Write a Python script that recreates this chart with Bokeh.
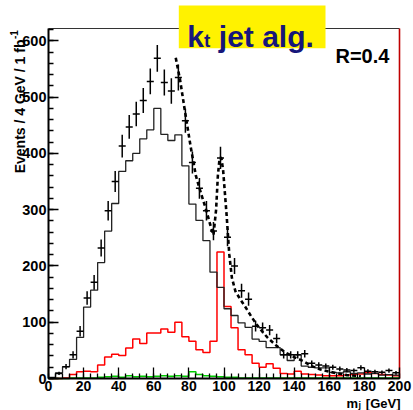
import numpy as np
from bokeh.plotting import figure
from bokeh.models import Range1d, SingleIntervalTicker, Label, BoxAnnotation
from bokeh.embed import file_html
from bokeh.resources import INLINE

# ---------------- data ----------------
bin_edges = list(range(0, 204, 4))  # 0..200, 4 GeV bins

black_hist = [2, 10, 21, 34, 73, 127, 157, 206, 262, 311,
              368, 387, 400, 426, 442, 480, 434, 423, 433, 378,
              310, 281, 245, 189, 162, 124, 112, 99, 91, 70,
              66, 55, 55, 42, 32, 42, 22, 20, 19, 19,
              11, 10, 12, 9, 10, 8, 9, 6, 7, 6]

red_hist = [0, 0, 1, 7, 12, 13, 12, 24, 38, 43,
            41, 54, 70, 62, 81, 81, 88, 82, 100, 74,
            66, 51, 46, 66, 225, 128, 90, 51, 42, 27,
            20, 26, 18, 9, 8, 13, 8, 7, 6, 5,
            5, 5, 6, 7, 8, 10, 9, 7, 6, 5]

green_hist = [0, 0, 0, 1, 1, 1, 1, 2, 3, 4,
              2, 5, 3, 4, 3, 4, 5, 4, 5, 4,
              12, 7, 5, 4, 3, 2, 2, 1, 1, 1,
              1, 1, 1, 1, 1, 1, 1, 1, 1, 1,
              1, 1, 1, 1, 1, 1, 1, 1, 1, 1]

data_x = list(range(2, 200, 4))
data_y = [1, 9, 21, 42, 84, 143, 171, 232, 298, 350,
          413, 447, 470, 494, 528, 569, 526, 511, 535, 458,
          384, 338, 298, 262, 392, 251, 200, 156, 141, 93,
          90, 86, 71, 42, 42, 42, 44, 27, 24, 22,
          20, 17, 15, 14, 19, 13, 12, 11, 14, 10]

fit_x = [72.5, 75, 78, 81, 84, 87, 90, 92, 94, 95.5, 96.5, 97.5, 98.5, 99.5,
         100.5, 101.5, 103, 104.5, 106.5, 109, 112, 116, 120, 125, 130, 135,
         140, 145, 150, 155, 160, 165, 170, 175, 178]
fit_y = [570, 530, 470, 412, 360, 328, 298, 275, 255, 300, 360, 392, 392, 370,
         330, 290, 221, 179, 155, 142, 128, 108, 90, 72, 58, 46,
         38, 31, 22, 16, 12, 9, 6, 5, 4]

X_MIN, X_MAX = 0, 200      # axis extent (GeV)
Y_MIN, Y_MAX = 0, 622      # axis extent (events)

# ---------------- figure ----------------
FONT = "Liberation Sans"
W, H = 413, 410
FR_L, FR_R, FR_T, FR_B = 48, 399, 28, 378   # plot box in canvas pixels
sx = (FR_R - FR_L) / (X_MAX - X_MIN)
sy = (FR_B - FR_T) / (Y_MAX - Y_MIN)
x_lo = X_MIN - FR_L / sx
x_hi = X_MAX + (W - FR_R) / sx
y_lo = Y_MIN - (H - FR_B) / sy
y_hi = Y_MAX + FR_T / sy


def cx(px):  # canvas pixel -> x data (for placing annotations)
    return X_MIN + (px - FR_L) / sx


def cy(py):  # canvas pixel (from top) -> y data
    return Y_MIN + (FR_B - py) / sy


p = figure(width=W, height=H, output_backend="svg", toolbar_location=None,
           x_range=Range1d(x_lo, x_hi), y_range=Range1d(y_lo, y_hi),
           min_border=0, min_border_left=0, min_border_right=0,
           min_border_top=0, min_border_bottom=0)
p.background_fill_color = "white"
p.border_fill_color = "white"
p.outline_line_color = None
p.xgrid.visible = False
p.ygrid.visible = False

p.xaxis.ticker = SingleIntervalTicker(interval=20, num_minor_ticks=5)
p.yaxis.ticker = SingleIntervalTicker(interval=100, num_minor_ticks=5)
p.xaxis.fixed_location = Y_MIN
p.yaxis.fixed_location = X_MIN
p.xaxis.bounds = (X_MIN, X_MAX)
p.yaxis.bounds = (Y_MIN, Y_MAX)
for ax in (p.xaxis[0], p.yaxis[0]):
    ax.axis_line_width = 2
    ax.axis_line_color = "black"
    ax.major_tick_line_color = "black"
    ax.minor_tick_line_color = "black"
    ax.major_tick_line_width = 1.3
    ax.minor_tick_line_width = 1.3
    ax.major_tick_out = 0
    ax.minor_tick_out = 0
    ax.major_label_text_font = FONT
    ax.major_label_text_font_style = "bold"
    ax.major_label_text_color = "black"
p.xaxis.major_label_text_font_size = "14px"
p.yaxis.major_label_text_font_size = "14.5px"
p.xaxis.major_tick_in = 11
p.xaxis.minor_tick_in = 5
p.yaxis.major_tick_in = 10
p.yaxis.minor_tick_in = 5
p.xaxis.major_label_standoff = 2
p.yaxis.major_label_standoff = 2

# frame top (thin dark) and right (red) edges
p.segment([X_MIN], [Y_MAX], [X_MAX], [Y_MAX], line_color="#333333", line_width=1)
p.segment([X_MAX], [Y_MIN], [X_MAX], [Y_MAX], line_color="#c00000", line_width=1.6)

# ---------------- histograms ----------------
def step_xy(vals):
    return bin_edges, list(vals) + [vals[-1]]

gx, gy = step_xy(green_hist)
p.step(gx, gy, mode="after", line_color="#00cc00", line_width=1.5)
rx, ry = step_xy(red_hist)
p.step(rx, ry, mode="after", line_color="#ff0000", line_width=1.5)
bx, by = step_xy(black_hist)
p.step(bx, by, mode="after", line_color="#222222", line_width=1.3)

# fit curve
p.line(fit_x, fit_y, line_color="black", line_width=2.6, line_dash="4 3")

# data points with errors
dx = np.array(data_x, dtype=float)
dy = np.array(data_y, dtype=float)
err = np.sqrt(dy)
p.segment(dx, dy - err, dx, dy + err, line_color="black", line_width=1.5)
p.segment(dx - 2, dy, dx + 2, dy, line_color="black", line_width=1.5)

# ---------------- title box ----------------
p.add_layout(BoxAnnotation(left=cx(178.3), right=cx(325), bottom=cy(47.7), top=cy(5),
                           fill_color="#fff200", fill_alpha=1.0, line_color=None))
NAVY = "#16167a"
p.add_layout(Label(x=cx(186.7), y=cy(36), text="k", text_font=FONT, text_font_style="bold",
                   text_font_size="30px", text_color=NAVY, text_baseline="alphabetic"))
p.add_layout(Label(x=cx(203.5), y=cy(39.5), text="t", text_font=FONT, text_font_style="bold",
                   text_font_size="19px", text_color=NAVY, text_baseline="alphabetic"))
p.add_layout(Label(x=cx(218.3), y=cy(36), text="jet alg.", text_font=FONT,
                   text_font_style="bold", text_font_size="30px", text_color=NAVY,
                   text_baseline="alphabetic"))

# R=0.4
p.add_layout(Label(x=cx(335), y=cy(55), text="R=0.4", text_font=FONT, text_font_style="bold",
                   text_font_size="20px", text_color="black", text_baseline="alphabetic"))

# ---------------- axis titles ----------------
p.add_layout(Label(x=cx(19.5), y=cy(39), text="Events / 4 GeV / 1 fb", angle=np.pi / 2,
                   text_font=FONT, text_font_style="bold", text_font_size="14px",
                   text_color="black", text_align="right", text_baseline="alphabetic"))
p.add_layout(Label(x=cx(13.5), y=cy(38.5), text="-1", angle=np.pi / 2,
                   text_font=FONT, text_font_style="bold", text_font_size="10px",
                   text_color="black", text_align="left", text_baseline="alphabetic"))

p.add_layout(Label(x=cx(346), y=cy(402.5), text="m", text_font=FONT, text_font_style="bold",
                   text_font_size="13px", text_color="black", text_baseline="alphabetic"))
p.add_layout(Label(x=cx(358), y=cy(404.5), text="j", text_font=FONT, text_font_style="bold",
                   text_font_size="9px", text_color="black", text_baseline="alphabetic"))
p.add_layout(Label(x=cx(400), y=cy(402.5), text="[GeV]", text_font=FONT,
                   text_font_style="bold", text_font_size="13px", text_color="black",
                   text_align="right", text_baseline="alphabetic"))

open("out.html", "w").write(file_html(p, INLINE))
